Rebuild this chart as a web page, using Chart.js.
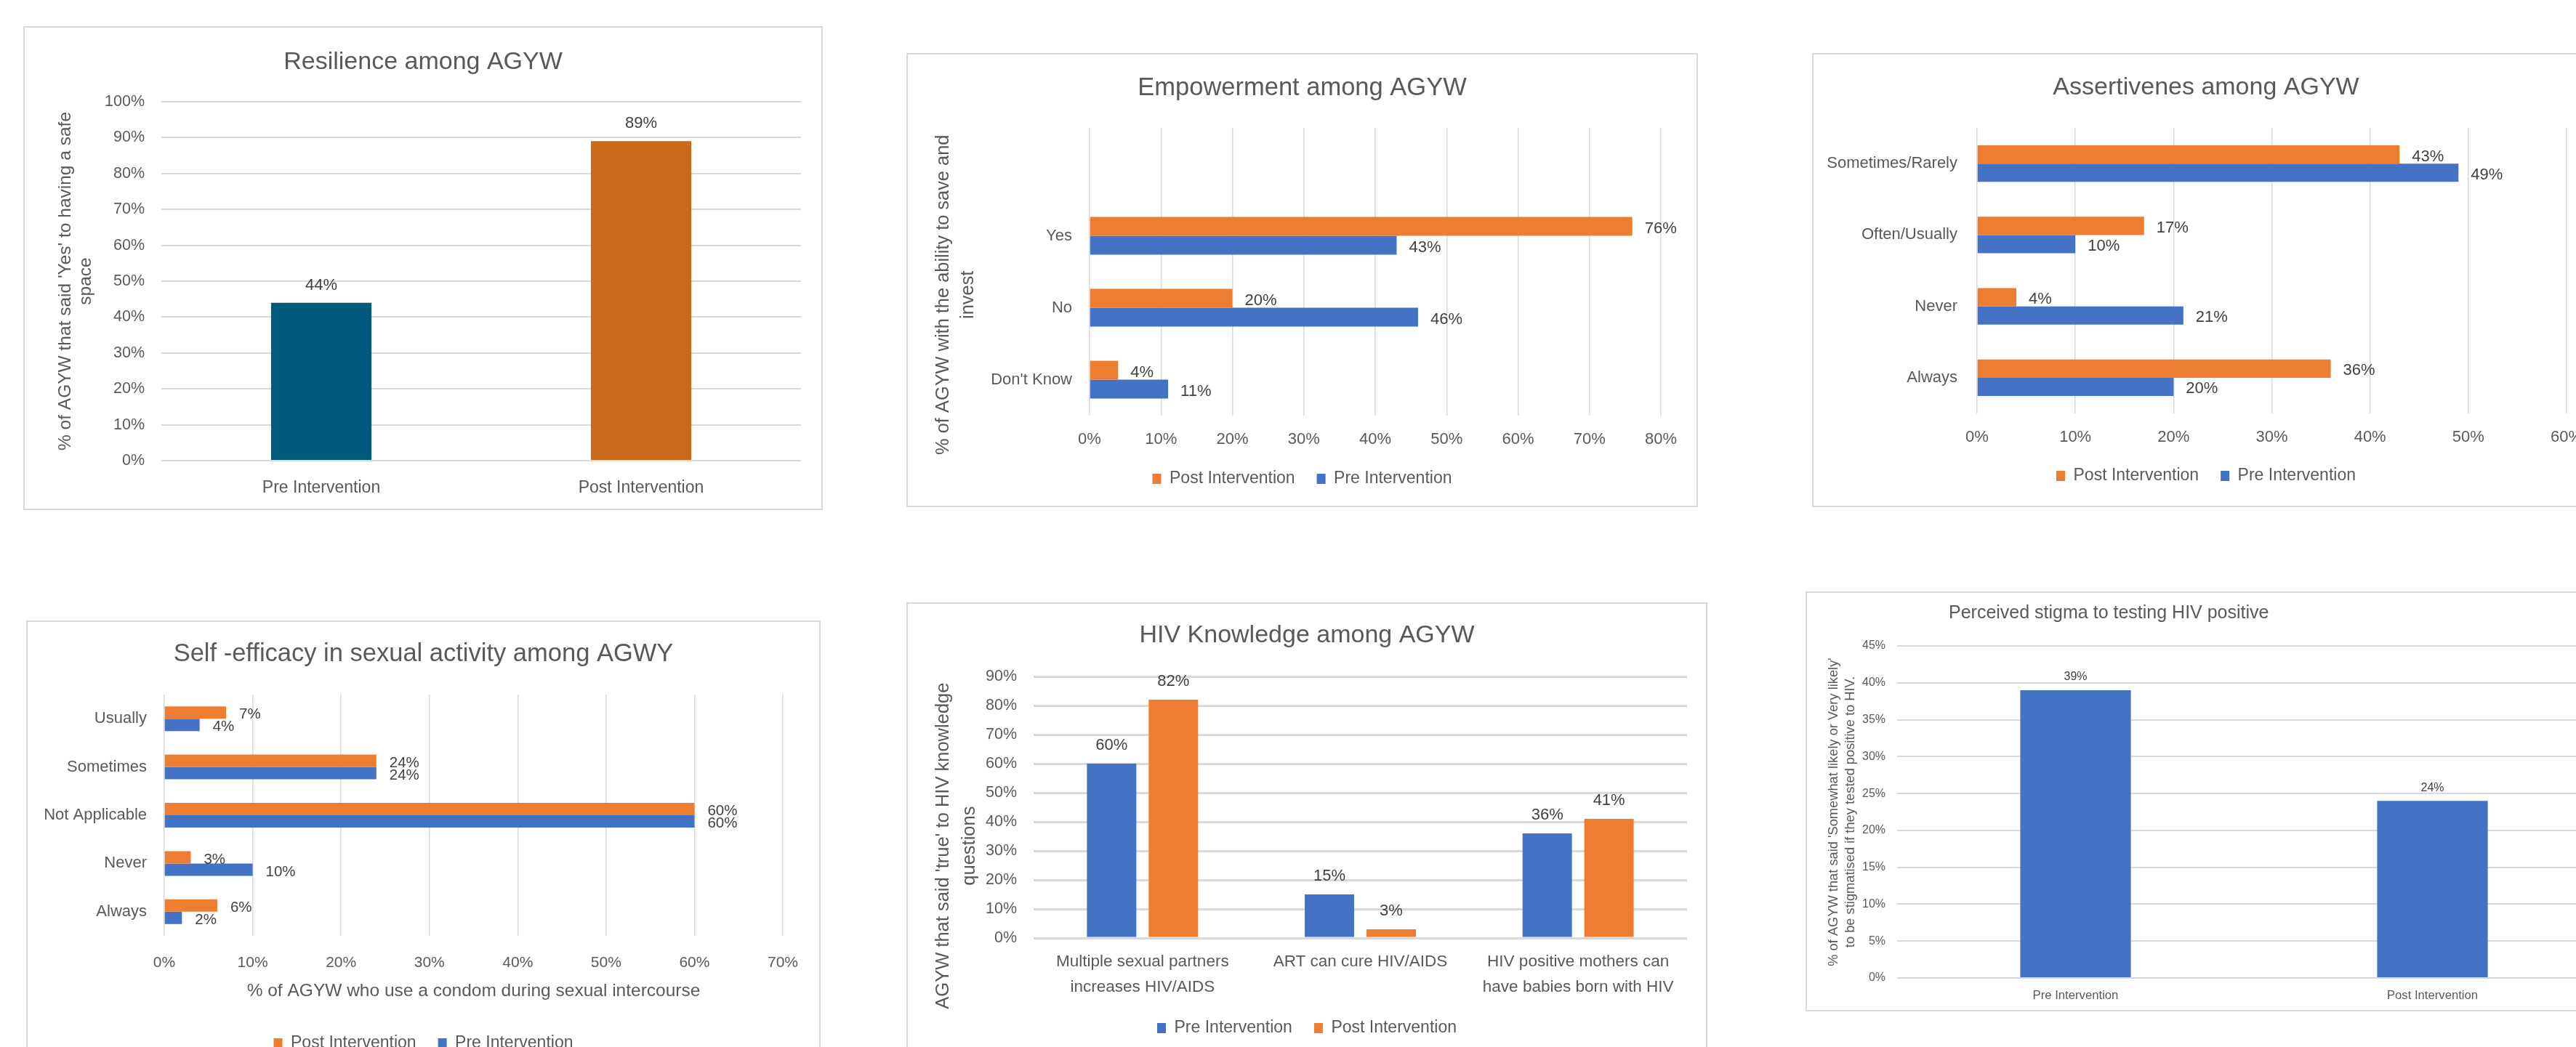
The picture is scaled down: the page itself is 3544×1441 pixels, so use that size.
<!DOCTYPE html>
<html>
<head>
<meta charset="utf-8">
<script src="https://cdn.jsdelivr.net/npm/chart.js@4.4.1/dist/chart.umd.min.js"></script>
<style>
  html, body { margin: 0; padding: 0; background: #fff; }
  body { width: 3544px; height: 1441px; overflow: hidden; position: relative; }
  .frame { position: absolute; border: 2px solid #d9d9d9; box-sizing: border-box; }
  .holder { position: absolute; }
</style>
</head>
<body>

<div class="frame" style="left:32px;top:36px;width:1100px;height:666px"></div>
<div class="holder" style="left:32px;top:36px;width:1100px;height:662px"><canvas id="resilience"></canvas></div>

<div class="frame" style="left:1247px;top:73px;width:1089px;height:625px"></div>
<div class="holder" style="left:1247px;top:73px;width:1089px;height:625px"><canvas id="empowerment"></canvas></div>

<div class="frame" style="left:2493px;top:73px;width:1200px;height:625px"></div>
<div class="holder" style="left:2493px;top:73px;width:1084px;height:625px"><canvas id="assertive"></canvas></div>

<div class="frame" style="left:36px;top:854px;width:1093px;height:700px"></div>
<div class="holder" style="left:36px;top:854px;width:1093px;height:620px"><canvas id="efficacy"></canvas></div>

<div class="frame" style="left:1247px;top:829px;width:1102px;height:700px"></div>
<div class="holder" style="left:1247px;top:829px;width:1102px;height:620px"><canvas id="hiv"></canvas></div>

<div class="frame" style="left:2484px;top:814px;width:1200px;height:578px"></div>
<div class="holder" style="left:2484px;top:814px;width:1150px;height:578px"><canvas id="stigma"></canvas></div>

<script>
// data
const resilienceLabels = ['Pre Intervention', 'Post Intervention'];
const resilienceValues = [44, 89];

const empowermentLabels = ['', 'Yes', 'No', "Don't Know"];
const empowermentPost = [null, 76, 20, 4];
const empowermentPre = [null, 43, 46, 11];

const assertLabels = ['Sometimes/Rarely', 'Often/Usually', 'Never', 'Always'];
const assertPost = [43, 17, 4, 36];
const assertPre = [49, 10, 21, 20];

const efficacyLabels = ['Usually', 'Sometimes', 'Not Applicable', 'Never', 'Always'];
const efficacyPost = [7, 24, 60, 3, 6];
const efficacyPre = [4, 24, 60, 10, 2];

const hivLabels = [
    ['Multiple sexual partners', 'increases HIV/AIDS'],
    'ART can cure HIV/AIDS',
    ['HIV positive mothers can', 'have babies born with HIV'],
];
const hivPre = [60, 15, 36];
const hivPost = [82, 3, 41];

const stigmaLabels = ['Pre Intervention', 'Post Intervention'];
const stigmaValues = [39, 24];

const FONT = "'Liberation Sans', Arial, sans-serif";
const GREY = '#595959';
const GRID = '#d9d9d9';
const BLUE = '#4472C4';
const ORANGE = '#ED7D31';

Chart.defaults.font.family = FONT;
Chart.defaults.color = GREY;
Chart.defaults.animation = false;

const pct = (v) => v + '%';
// trailing blanks push a centred axis title down the axis, as in the picture
const nudge = (n) => ' '.repeat(n);

// draws the "44%" style labels next to each bar
const valueLabels = {
    id: 'valueLabels',
    afterDatasetsDraw(chart, args, opts) {
        const { ctx } = chart;
        const horizontal = chart.options.indexAxis === 'y';
        ctx.save();
        ctx.font = `${opts.size}px ${FONT}`;
        ctx.fillStyle = opts.color || '#404040';
        ctx.textBaseline = 'middle';
        chart.data.datasets.forEach((ds, i) => {
            chart.getDatasetMeta(i).data.forEach((bar, j) => {
                const v = ds.data[j];
                if (v == null) return;
                if (horizontal) {
                    ctx.textAlign = 'left';
                    ctx.fillText(pct(v), bar.x + opts.gap, bar.y + (opts.dy || 0));
                } else {
                    ctx.textAlign = 'center';
                    ctx.fillText(pct(v), bar.x, bar.y - opts.gap);
                }
            });
        });
        ctx.restore();
    },
};

// free placed title (used where the title is not centred on the chart)
const looseTitle = {
    id: 'looseTitle',
    afterDraw(chart, args, opts) {
        if (!opts.text) return;
        const { ctx } = chart;
        ctx.save();
        ctx.font = `${opts.size}px ${FONT}`;
        ctx.fillStyle = GREY;
        ctx.textAlign = 'left';
        ctx.textBaseline = 'middle';
        ctx.fillText(opts.text, opts.x, opts.y);
        ctx.restore();
    },
};

// empty right-hand axis, only keeps space free on the right of the plot
const spacer = (w) => ({
    type: 'linear', axis: 'y', position: 'right', display: true,
    grid: { display: false, drawTicks: false }, border: { display: false }, ticks: { display: false },
    afterFit: (s) => { s.width = w; },
});

const noGrid = { display: false, drawTicks: false };

const titleOpts = (text, size, top, bottom) => ({
    display: true, text, color: GREY,
    font: { family: FONT, size, weight: 'normal' },
    padding: { top, bottom },
});

const legendOpts = {
    display: true, position: 'bottom',
    labels: { boxWidth: 12, boxHeight: 14, padding: 30, color: GREY, font: { size: 23 } },
};

// Resilience
new Chart(document.getElementById('resilience'), {
    type: 'bar',
    data: {
        labels: resilienceLabels,
        datasets: [{
            label: 'Resilience',
            data: resilienceValues,
            backgroundColor: ['#005A7C', '#C8691C'],
            barPercentage: 0.314,
            categoryPercentage: 1,
        }],
    },
    options: {
        responsive: true, maintainAspectRatio: false,
        layout: { padding: 0 },
        plugins: {
            legend: { display: false },
            tooltip: { enabled: false },
            title: titleOpts('Resilience among AGYW', 34, 29.6, 33.6),
            valueLabels: { size: 22, gap: 24 },
        },
        scales: {
            x: {
                grid: noGrid, border: { display: false },
                ticks: { font: { size: 23 }, padding: 24 },
                afterFit: (s) => { s.height = 64; },
            },
            y: {
                min: 0, max: 100,
                ticks: { stepSize: 10, callback: pct, font: { size: 21.5 }, padding: 23 },
                grid: { color: GRID, lineWidth: 2, drawTicks: false },
                border: { display: false },
                title: {
                    display: true, color: GREY,
                    text: ["% of AGYW that said 'Yes' to having a safe", 'space'],
                    font: { size: 24.5, lineHeight: 1.17 }, padding: { top: 43.7, bottom: 0 },
                },
                afterFit: (s) => { s.width = 190; },
            },
            pad: spacer(30),
        },
    },
    plugins: [valueLabels],
});

// Empowerment
new Chart(document.getElementById('empowerment'), {
    type: 'bar',
    data: {
        labels: empowermentLabels,
        datasets: [
            { label: 'Post Intervention', data: empowermentPost, backgroundColor: ORANGE, categoryPercentage: 0.525, barPercentage: 1 },
            { label: 'Pre Intervention', data: empowermentPre, backgroundColor: BLUE, categoryPercentage: 0.525, barPercentage: 1 },
        ],
    },
    options: {
        indexAxis: 'y',
        responsive: true, maintainAspectRatio: false,
        layout: { padding: { bottom: 17.5 } },
        plugins: {
            legend: legendOpts,
            tooltip: { enabled: false },
            title: titleOpts('Empowerment among AGYW', 34.5, 27.3, 34.3),
            valueLabels: { size: 22, gap: 17, dy: 3 },
        },
        scales: {
            x: {
                min: 0, max: 80,
                ticks: { stepSize: 10, callback: pct, font: { size: 22 }, padding: 19.8 },
                grid: { color: GRID, lineWidth: 1.5, drawTicks: false },
                border: { display: false },
                afterFit: (s) => { s.height = 45.5; },
            },
            y: {
                grid: noGrid, border: { display: false },
                ticks: { font: { size: 22 }, padding: 24 },
                title: {
                    display: true, color: GREY,
                    text: ['% of AGYW with the ability to save and' + nudge(9), 'invest' + nudge(9)],
                    font: { size: 25.4, lineHeight: 1.33 }, padding: { top: 34.1, bottom: 0 },
                },
                afterFit: (s) => { s.width = 252; },
            },
            pad: spacer(51),
        },
    },
    plugins: [valueLabels],
});

// Assertiveness
new Chart(document.getElementById('assertive'), {
    type: 'bar',
    data: {
        labels: assertLabels,
        datasets: [
            { label: 'Post Intervention', data: assertPost, backgroundColor: ORANGE, categoryPercentage: 0.51, barPercentage: 1 },
            { label: 'Pre Intervention', data: assertPre, backgroundColor: BLUE, categoryPercentage: 0.51, barPercentage: 1 },
        ],
    },
    options: {
        indexAxis: 'y',
        responsive: true, maintainAspectRatio: false,
        layout: { padding: { bottom: 21.5 } },
        plugins: {
            legend: legendOpts,
            tooltip: { enabled: false },
            title: titleOpts('Assertivenes among AGYW', 34, 27.6, 34.6),
            valueLabels: { size: 22, gap: 17, dy: 3 },
        },
        scales: {
            x: {
                min: 0, max: 60,
                ticks: { stepSize: 10, callback: pct, font: { size: 22 }, padding: 19.8 },
                grid: { color: GRID, lineWidth: 1.5, drawTicks: false },
                border: { display: false },
                afterFit: (s) => { s.height = 44.5; },
            },
            y: {
                grid: noGrid, border: { display: false },
                ticks: { font: { size: 22 }, padding: 27 },
                afterFit: (s) => { s.width = 227; },
            },
            pad: spacer(46),
        },
    },
    plugins: [valueLabels],
});

// Self-efficacy
new Chart(document.getElementById('efficacy'), {
    type: 'bar',
    data: {
        labels: efficacyLabels,
        datasets: [
            { label: 'Post Intervention', data: efficacyPost, backgroundColor: ORANGE, categoryPercentage: 0.512, barPercentage: 1 },
            { label: 'Pre Intervention', data: efficacyPre, backgroundColor: BLUE, categoryPercentage: 0.512, barPercentage: 1 },
        ],
    },
    options: {
        indexAxis: 'y',
        responsive: true, maintainAspectRatio: false,
        layout: { padding: { bottom: 16.5 } },
        plugins: {
            legend: legendOpts,
            tooltip: { enabled: false },
            title: titleOpts('Self -efficacy in sexual activity among AGWY', 34.5, 25.3, 35.3),
            valueLabels: { size: 20.5, gap: 18, dy: 3 },
        },
        scales: {
            x: {
                min: 0, max: 70,
                ticks: { stepSize: 10, callback: pct, font: { size: 21 }, padding: 24.4 },
                grid: { color: GRID, lineWidth: 1.5, drawTicks: false },
                border: { display: false },
                title: {
                    display: true, color: GREY,
                    text: '% of AGYW who use a condom during sexual intercourse',
                    font: { size: 24.5 }, padding: { top: 0, bottom: 15.8 },
                },
                afterFit: (s) => { s.height = 106.5; },
            },
            y: {
                grid: noGrid, border: { display: false },
                ticks: { font: { size: 22 }, padding: 24 },
                afterFit: (s) => { s.width = 190; },
            },
            pad: spacer(52),
        },
    },
    plugins: [valueLabels],
});

// HIV knowledge
new Chart(document.getElementById('hiv'), {
    type: 'bar',
    data: {
        labels: hivLabels,
        datasets: [
            { label: 'Pre Intervention', data: hivPre, backgroundColor: BLUE, categoryPercentage: 0.567, barPercentage: 0.8 },
            { label: 'Post Intervention', data: hivPost, backgroundColor: ORANGE, categoryPercentage: 0.567, barPercentage: 0.8 },
        ],
    },
    options: {
        responsive: true, maintainAspectRatio: false,
        layout: { padding: { bottom: 12.5 } },
        plugins: {
            legend: legendOpts,
            tooltip: { enabled: false },
            title: titleOpts('HIV Knowledge among AGYW', 34, 25.1, 36.1),
            valueLabels: { size: 22, gap: 25 },
        },
        scales: {
            x: {
                grid: noGrid, border: { display: false },
                ticks: { font: { size: 22.5, lineHeight: 1.55 }, padding: 15.5, maxRotation: 0, autoSkip: false },
                afterFit: (s) => { s.height = 82.5; },
            },
            y: {
                min: 0, max: 90,
                ticks: { stepSize: 10, callback: pct, font: { size: 21.5 }, padding: 23 },
                grid: { color: GRID, lineWidth: 3, drawTicks: false },
                border: { display: false },
                title: {
                    display: true, color: GREY,
                    text: ["AGYW that said 'true' to HIV knowledge" + nudge(15), 'questions' + nudge(15)],
                    font: { size: 25.5, lineHeight: 1.41 }, padding: { top: 33, bottom: 0 },
                },
                afterFit: (s) => { s.width = 175; },
            },
            pad: spacer(28),
        },
    },
    plugins: [valueLabels],
});

// Perceived stigma
new Chart(document.getElementById('stigma'), {
    type: 'bar',
    data: {
        labels: stigmaLabels,
        datasets: [{
            label: 'Perceived stigma',
            data: stigmaValues,
            backgroundColor: BLUE,
            barPercentage: 0.31,
            categoryPercentage: 1,
        }],
    },
    options: {
        responsive: true, maintainAspectRatio: false,
        layout: { padding: { top: 75 } },
        plugins: {
            legend: { display: false },
            tooltip: { enabled: false },
            looseTitle: { text: 'Perceived stigma to testing HIV positive', size: 25, x: 197, y: 30 },
            valueLabels: { size: 16, gap: 18 },
        },
        scales: {
            x: {
                grid: noGrid, border: { display: false },
                ticks: { font: { size: 16.7 }, padding: 14 },
                afterFit: (s) => { s.height = 46; },
            },
            y: {
                min: 0, max: 45,
                ticks: { stepSize: 5, callback: pct, font: { size: 16 }, padding: 16 },
                grid: { color: GRID, lineWidth: 2, drawTicks: false },
                border: { display: false },
                title: {
                    display: true, color: GREY,
                    text: ["% of AGYW that said 'Somewhat likely or Very likely'", 'to be stigmatised if they tested positive to HIV.'],
                    font: { size: 18.3, lineHeight: 1.23 }, padding: { top: 27.75, bottom: 0 },
                },
                afterFit: (s) => { s.width = 126; },
            },
            pad: spacer(42),
        },
    },
    plugins: [valueLabels, looseTitle],
});
</script>
</body>
</html>
